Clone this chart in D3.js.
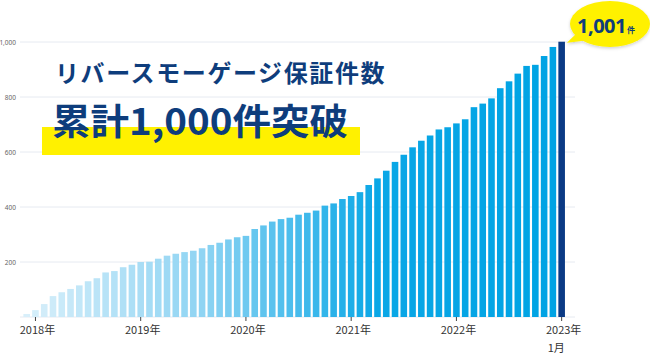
<!DOCTYPE html>
<html><head><meta charset="utf-8">
<script src="https://cdn.jsdelivr.net/npm/d3@7"></script>
<style>
html,body{margin:0;padding:0;background:#fff;}
svg{display:block;font-family:"Noto Sans CJK JP","Noto Sans",sans-serif;}
</style></head><body>
<svg id="chart" width="650" height="360"></svg>
<script>
// Months (Dec 2017 – Jan 2023)
const months = ["2017-12","2018-01","2018-02","2018-03","2018-04","2018-05","2018-06","2018-07","2018-08","2018-09","2018-10","2018-11","2018-12",
"2019-01","2019-02","2019-03","2019-04","2019-05","2019-06","2019-07","2019-08","2019-09","2019-10","2019-11","2019-12",
"2020-01","2020-02","2020-03","2020-04","2020-05","2020-06","2020-07","2020-08","2020-09","2020-10","2020-11","2020-12",
"2021-01","2021-02","2021-03","2021-04","2021-05","2021-06","2021-07","2021-08","2021-09","2021-10","2021-11","2021-12",
"2022-01","2022-02","2022-03","2022-04","2022-05","2022-06","2022-07","2022-08","2022-09","2022-10","2022-11","2022-12",
"2023-01"];
// Cumulative guarantee count
const counts = [11,25,47,76,90,102,115,130,141,162,167,181,190,
200,201,212,223,230,236,241,250,262,270,282,290,
295,320,333,347,356,361,372,379,387,405,413,429,
440,454,480,504,532,564,590,617,641,660,682,690,
704,719,763,776,795,832,857,885,913,917,949,982,
1001];
const yTicks = [200,400,600,800,1000];
const xTickMonths = ["2018-01","2019-01","2020-01","2021-01","2022-01","2023-01"];
const xTickLabels = ["2018年","2019年","2020年","2021年","2022年","2023年"];
const titleLine1 = "リバースモーゲージ保証件数";
const titleLine2 = "累計1,000件突破";
const calloutValue = "1,001";
const calloutUnit = "件";

const svg = d3.select("#chart");
const x = d3.scaleBand().domain(months).range([22.3, 22.3 + 8.77*months.length]).paddingInner(0.25).paddingOuter(0.125);
const y = d3.scaleLinear().domain([0,1000]).range([317,42]);

// gridlines
svg.append("g").selectAll("line").data([0].concat(yTicks)).join("line")
  .attr("x1",20).attr("x2",575)
  .attr("y1",d=>y(d)).attr("y2",d=>y(d))
  .attr("stroke","#e6eaf1").attr("stroke-width",1);

// y axis labels
const yAxis = d3.axisLeft(y).tickValues(yTicks).tickSize(0).tickPadding(0).tickFormat(d3.format(","));
const ya = svg.append("g").attr("transform","translate(16,0)").call(yAxis);
ya.select(".domain").remove();
ya.selectAll("text").attr("font-size",6.5).attr("fill","#666").attr("font-family","'Noto Sans',sans-serif");

// bars
const colorScale = d3.scaleLinear().domain([0,20,40,61]).range(["#d8effa","#8fd4f3","#0aa7e6","#00a3e4"]).interpolate(d3.interpolateRgb);
svg.append("g").selectAll("rect").data(counts).join("rect")
  .attr("x",(d,i)=>x(months[i]))
  .attr("width",x.bandwidth())
  .attr("y",d=>y(d))
  .attr("height",d=>y(0)-y(d))
  .attr("fill",(d,i)=> i===counts.length-1 ? "#0b3a85" : colorScale(i));

// x axis
const xAxis = d3.axisBottom(x).tickValues(xTickMonths).tickSize(4).tickPadding(5)
  .tickFormat(m=>xTickLabels[xTickMonths.indexOf(m)]);
const xa = svg.append("g").attr("transform","translate(0,317)").call(xAxis);
xa.select(".domain").remove();
xa.selectAll(".tick line").attr("stroke","#444");
xa.selectAll("text").attr("font-size",11).attr("fill","#333").attr("dx",2)
  .attr("font-family","'Noto Sans CJK JP',sans-serif");
// second line for last tick
xa.selectAll(".tick").filter(m=>m==="2023-01").append("text")
  .attr("y",27).attr("dy","0.71em").attr("x",-14).attr("text-anchor","start")
  .attr("font-size",11).attr("fill","#333").attr("font-family","'Noto Sans CJK JP',sans-serif")
  .text("1月");

// title block
svg.append("rect").attr("x",42).attr("y",127).attr("width",318).attr("height",28).attr("fill","#fff100");
svg.append("text").attr("x",55).attr("y",82).attr("font-size",24).attr("font-weight",700)
  .attr("fill","#0e3d7c").attr("letter-spacing",1.6).text(titleLine1);
svg.append("text").attr("x",52).attr("y",135).attr("font-size",36).attr("font-weight",700)
  .attr("fill","#0e3d7c").attr("textLength",296).attr("lengthAdjust","spacingAndGlyphs").text(titleLine2);

// callout
const defs = svg.append("defs");
const f = defs.append("filter").attr("id","sh").attr("x","-20%").attr("y","-20%").attr("width","140%").attr("height","150%");
f.append("feDropShadow").attr("dx",0).attr("dy",1.5).attr("stdDeviation",1.5).attr("flood-color","#000").attr("flood-opacity",0.18);
const last = months[months.length-1];
const tipX = x(last) + x.bandwidth() + 2, tipY = y(counts[counts.length-1]) + 1;
const cg = svg.append("g").attr("filter","url(#sh)");
cg.append("ellipse").attr("cx",610).attr("cy",24).attr("rx",40).attr("ry",23).attr("fill","#fff100");
cg.append("path").attr("d",`M580,30 L${tipX},${tipY} L590,40 Z`).attr("fill","#fff100");
const ct = svg.append("text").attr("x",577).attr("y",33).attr("fill","#0e3d7c").attr("font-weight",700)
  .attr("font-family","'Noto Sans','Noto Sans CJK JP',sans-serif");
ct.append("tspan").attr("font-size",20).attr("letter-spacing",-0.5).text(calloutValue);
ct.append("tspan").attr("font-size",8).attr("dx",1).text(calloutUnit);
</script>
</body></html>
